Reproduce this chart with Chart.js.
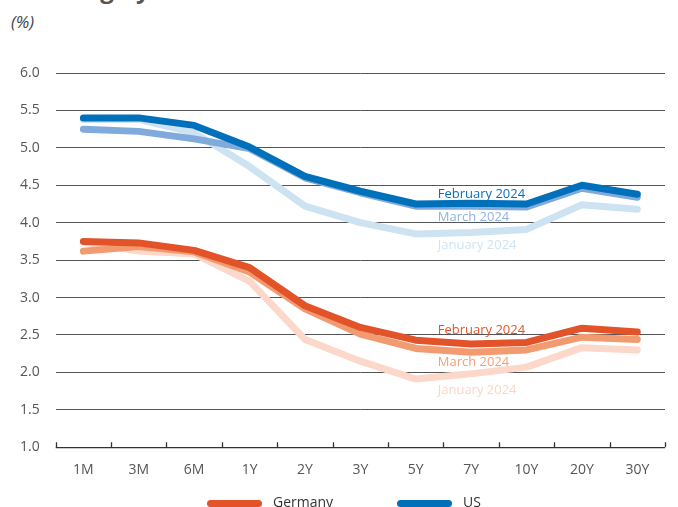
<!DOCTYPE html>
<html>
<head>
<meta charset="utf-8">
<script src="https://cdn.jsdelivr.net/npm/chart.js@4.4.1/dist/chart.umd.min.js"></script>
<style>
  html, body { margin: 0; padding: 0; background: #fff; }
  #wrap { position: relative; width: 678px; height: 507px; overflow: hidden; }
  #title { position: absolute; left: 12px; top: -28px; font: bold 24px "Open Sans", sans-serif; color: #555; white-space: nowrap; }
  #unit { position: absolute; left: 11px; top: 10px; font: italic 17px "Open Sans", sans-serif; color: #444; }
  canvas { position: absolute; left: 0; top: 0; }
  .leg { position: absolute; top: 492px; font: 14px "Open Sans", sans-serif; color: #333; white-space: nowrap; }
  .leg span { position: absolute; top: 8px; width: 55px; height: 7px; border-radius: 4px; }
</style>
</head>
<body>
<div id="wrap">
  <div id="title">Sovereign yield curves</div>
  <div id="unit">(%)</div>
  <canvas id="yieldChart" width="678" height="507"></canvas>
  <div id="legend"></div>
</div>
<script>
// maturities
const maturities = ['1M', '3M', '6M', '1Y', '2Y', '3Y', '5Y', '7Y', '10Y', '20Y', '30Y'];

// US curves
const usJan = [5.38, 5.38, 5.20, 4.75, 4.22, 4.00, 3.85, 3.87, 3.91, 4.24, 4.18];
const usMar = [5.25, 5.22, 5.12, 4.99, 4.60, 4.40, 4.22, 4.22, 4.21, 4.46, 4.34];
const usFeb = [5.40, 5.40, 5.30, 5.01, 4.62, 4.42, 4.25, 4.26, 4.25, 4.50, 4.38];

// Germany curves
const deJan = [3.74, 3.62, 3.58, 3.22, 2.44, 2.15, 1.91, 1.98, 2.07, 2.33, 2.30];
const deMar = [3.62, 3.68, 3.61, 3.34, 2.85, 2.51, 2.32, 2.27, 2.30, 2.47, 2.44];
const deFeb = [3.75, 3.73, 3.63, 3.40, 2.89, 2.60, 2.43, 2.38, 2.40, 2.59, 2.54];

const yTicks = [1.0, 1.5, 2.0, 2.5, 3.0, 3.5, 4.0, 4.5, 5.0, 5.5, 6.0];

// inline labels: text, colour, value they sit on
const inlineLabels = [
  { text: 'February 2024', color: '#0b6fb8', value: 4.38 },
  { text: 'March 2024', color: '#8fb3e0', value: 4.07 },
  { text: 'January 2024', color: '#cfe4f3', value: 3.70 },
  { text: 'February 2024', color: '#e3542a', value: 2.56 },
  { text: 'March 2024', color: '#f2a07a', value: 2.14 },
  { text: 'January 2024', color: '#fbd6c7', value: 1.76 }
];

const legendItems = [
  { text: 'Germany', color: '#e2532a', left: 207 },
  { text: 'US', color: '#0070ba', left: 397 }
];

const legendDiv = document.getElementById('legend');
legendItems.forEach(item => {
  const el = document.createElement('div');
  el.className = 'leg';
  el.style.left = item.left + 'px';
  el.innerHTML = `<span style="background:${item.color}"></span><b style="font-weight:normal;margin-left:66px">${item.text}</b>`;
  legendDiv.appendChild(el);
});

function line(label, data, color) {
  return {
    label, data,
    borderColor: color,
    backgroundColor: color,
    borderWidth: 7,
    pointRadius: 0,
    tension: 0,
    borderCapStyle: 'round',
    borderJoinStyle: 'round'
  };
}

const sideLabels = {
  id: 'sideLabels',
  afterDraw(chart) {
    const { ctx, scales } = chart;
    const x = scales.x.getPixelForValue(6) + 22;
    ctx.save();
    ctx.font = '13px "Open Sans", sans-serif';
    ctx.textBaseline = 'middle';
    ctx.textAlign = 'left';
    inlineLabels.forEach(l => {
      ctx.fillStyle = l.color;
      ctx.fillText(l.text, x, scales.y.getPixelForValue(l.value));
    });
    ctx.restore();
  }
};

// small tick marks standing up from the x axis, at category borders
const axisTicks = {
  id: 'axisTicks',
  afterDraw(chart) {
    const { ctx, chartArea } = chart;
    const n = maturities.length;
    const step = (chartArea.right - chartArea.left) / n;
    ctx.save();
    ctx.strokeStyle = '#333';
    ctx.lineWidth = 1.3;
    ctx.beginPath();
    ctx.moveTo(chartArea.left, chartArea.bottom + 0.5);
    ctx.lineTo(chartArea.right, chartArea.bottom + 0.5);
    for (let i = 0; i <= n; i++) {
      const x = Math.round(chartArea.left + i * step) + 0.5;
      ctx.moveTo(x, chartArea.bottom);
      ctx.lineTo(x, chartArea.bottom - 5);
    }
    ctx.stroke();
    ctx.restore();
  }
};

const ctx = document.getElementById('yieldChart').getContext('2d');

// first dataset is drawn on top
new Chart(ctx, {
  type: 'line',
  data: {
    labels: maturities,
    datasets: [
      line('Germany Feb', deFeb, '#e2532a'),
      line('Germany Mar', deMar, '#f29a70'),
      line('Germany Jan', deJan, '#fbd8ca'),
      line('US Feb', usFeb, '#0070ba'),
      line('US Mar', usMar, '#80a9dc'),
      line('US Jan', usJan, '#cde3f2')
    ]
  },
  options: {
    responsive: false,
    animation: false,
    layout: { padding: { top: 73, right: 13, left: 4, bottom: 15 } },
    plugins: {
      tooltip: { enabled: false },
      legend: { display: false }
    },
    scales: {
      x: {
        offset: true,
        grid: { display: false, drawTicks: false },
        border: { display: false },
        ticks: {
          color: '#555',
          padding: 14,
          font: { family: '"Open Sans", sans-serif', size: 14 }
        }
      },
      y: {
        min: 1,
        max: 6,
        afterBuildTicks(axis) { axis.ticks = yTicks.map(v => ({ value: v })); },
        grid: { color: '#555', lineWidth: 1, drawTicks: false },
        border: { display: false },
        ticks: {
          color: '#555',
          padding: 16,
          font: { family: '"Open Sans", sans-serif', size: 14 },
          callback: v => Number(v).toFixed(1)
        }
      }
    }
  },
  plugins: [sideLabels, axisTicks]
});
</script>
</body>
</html>
